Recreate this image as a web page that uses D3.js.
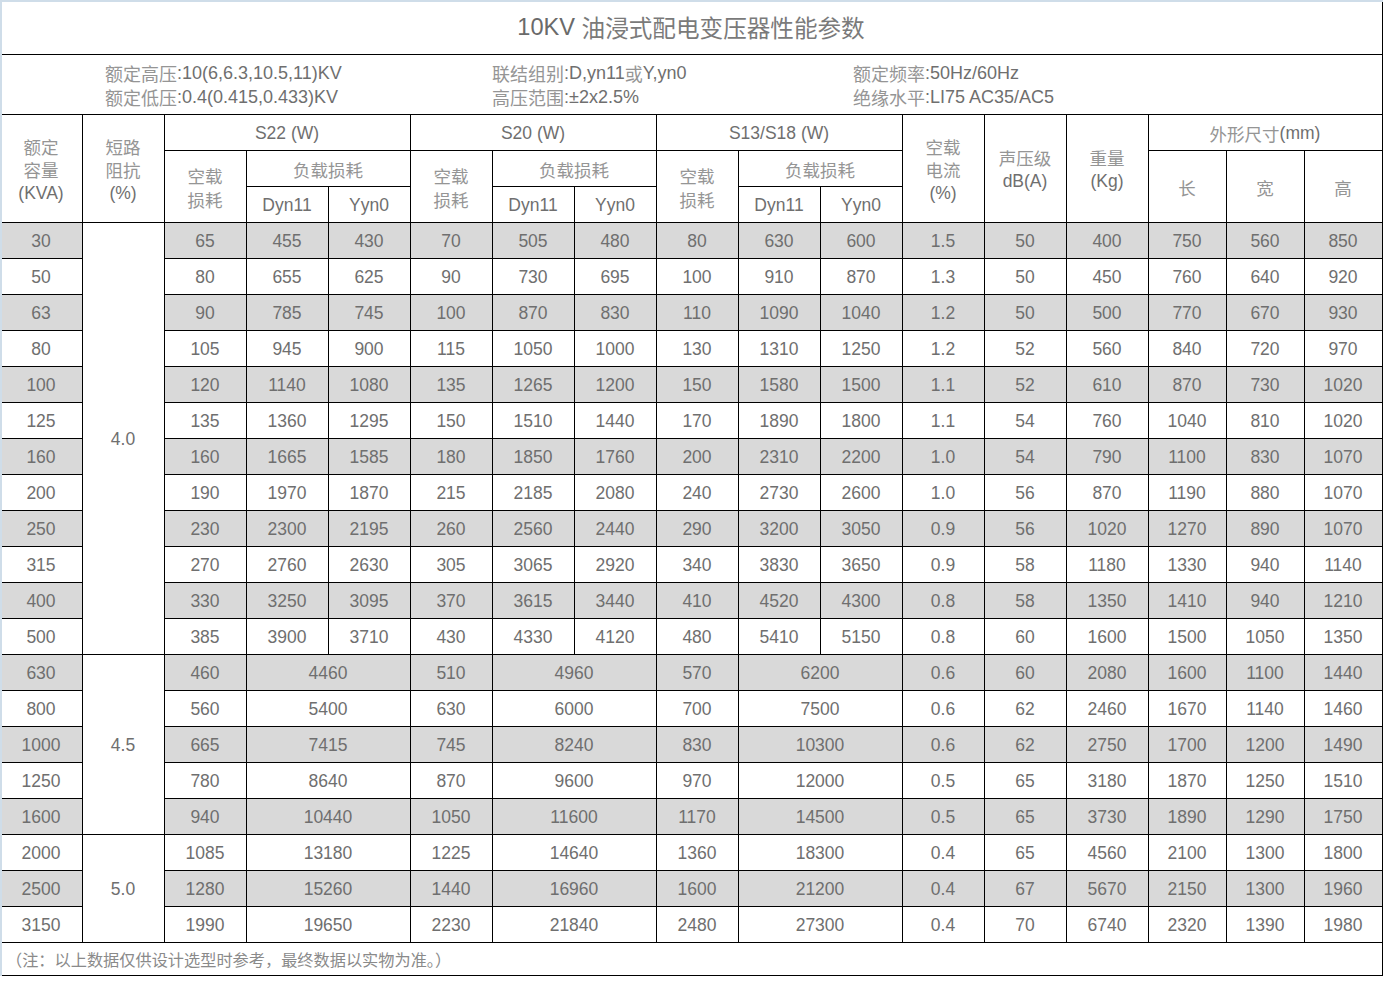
<!DOCTYPE html>
<html>
<head>
<meta charset="utf-8">
<script src="https://cdn.jsdelivr.net/npm/d3@7/dist/d3.min.js"></script>
<style>
  html, body { margin: 0; padding: 0; background: #fff; }
  svg { display: block; }
</style>
</head>
<body>
<div id="chart"></div>
<script>
// ---------------- DATA ----------------
const title = "10KV 油浸式配电变压器性能参数";
const infoCol1 = ["额定高压:10(6,6.3,10.5,11)KV", "额定低压:0.4(0.415,0.433)KV"];
const infoCol2 = ["联结组别:D,yn11或Y,yn0", "高压范围:±2x2.5%"];
const infoCol3 = ["额定频率:50Hz/60Hz", "绝缘水平:LI75 AC35/AC5"];
const note = "（注：以上数据仅供设计选型时参考，最终数据以实物为准。）";

const capacity = [30, 50, 63, 80, 100, 125, 160, 200, 250, 315, 400, 500, 630, 800, 1000, 1250, 1600, 2000, 2500, 3150];
const impedanceGroups = [
  { label: "4.0", from: 0, to: 11 },
  { label: "4.5", from: 12, to: 16 },
  { label: "5.0", from: 17, to: 19 }
];
const s22NoLoad = [65, 80, 90, 105, 120, 135, 160, 190, 230, 270, 330, 385, 460, 560, 665, 780, 940, 1085, 1280, 1990];
const s22Dyn11 = [455, 655, 785, 945, 1140, 1360, 1665, 1970, 2300, 2760, 3250, 3900, 4460, 5400, 7415, 8640, 10440, 13180, 15260, 19650];
const s22Yyn0 = [430, 625, 745, 900, 1080, 1295, 1585, 1870, 2195, 2630, 3095, 3710];
const s20NoLoad = [70, 90, 100, 115, 135, 150, 180, 215, 260, 305, 370, 430, 510, 630, 745, 870, 1050, 1225, 1440, 2230];
const s20Dyn11 = [505, 730, 870, 1050, 1265, 1510, 1850, 2185, 2560, 3065, 3615, 4330, 4960, 6000, 8240, 9600, 11600, 14640, 16960, 21840];
const s20Yyn0 = [480, 695, 830, 1000, 1200, 1440, 1760, 2080, 2440, 2920, 3440, 4120];
const s13NoLoad = [80, 100, 110, 130, 150, 170, 200, 240, 290, 340, 410, 480, 570, 700, 830, 970, 1170, 1360, 1600, 2480];
const s13Dyn11 = [630, 910, 1090, 1310, 1580, 1890, 2310, 2730, 3200, 3830, 4520, 5410, 6200, 7500, 10300, 12000, 14500, 18300, 21200, 27300];
const s13Yyn0 = [600, 870, 1040, 1250, 1500, 1800, 2200, 2600, 3050, 3650, 4300, 5150];
const noLoadCurrent = ["1.5", "1.3", "1.2", "1.2", "1.1", "1.1", "1.0", "1.0", "0.9", "0.9", "0.8", "0.8", "0.6", "0.6", "0.6", "0.5", "0.5", "0.4", "0.4", "0.4"];
const noise = [50, 50, 50, 52, 52, 54, 54, 56, 56, 58, 58, 60, 60, 62, 62, 65, 65, 65, 67, 70];
const weight = [400, 450, 500, 560, 610, 760, 790, 870, 1020, 1180, 1350, 1600, 2080, 2460, 2750, 3180, 3730, 4560, 5670, 6740];
const dimLength = [750, 760, 770, 840, 870, 1040, 1100, 1190, 1270, 1330, 1410, 1500, 1600, 1670, 1700, 1870, 1890, 2100, 2150, 2320];
const dimWidth = [560, 640, 670, 720, 730, 810, 830, 880, 890, 940, 940, 1050, 1100, 1140, 1200, 1250, 1290, 1300, 1300, 1390];
const dimHeight = [850, 920, 930, 970, 1020, 1020, 1070, 1070, 1070, 1140, 1210, 1350, 1440, 1460, 1490, 1510, 1750, 1800, 1960, 1980];

const seriesNames = ["S22 (W)", "S20 (W)", "S13/S18 (W)"];

// ---------------- LAYOUT ----------------
const W = 1394, H = 987;
const colWidths = [82, 82, 82, 82, 82, 82, 82, 82, 82, 82, 82, 82, 82, 82, 78, 78, 78];
const edges = [0];
colWidths.forEach(w => edges.push(edges[edges.length - 1] + w));
const tableRight = edges[edges.length - 1]; // 1382

const yTitleBottom = 54, yInfoBottom = 114, yH1 = 150, yH2 = 186, yHeadBottom = 222;
const rowCount = capacity.length;
const y = d3.scaleBand().domain(d3.range(rowCount)).range([yHeadBottom, yHeadBottom + 36 * rowCount]);
const yTableBottom = y.range()[1];
const yNoteBottom = yTableBottom + 33;

const numColor = "#6f6f6f";
const cjkColor = "#959595";
const shade = "#d9d9d9";
const FONT = "'Liberation Sans', Arial, 'Noto Sans CJK SC', sans-serif";

const svg = d3.select("#chart").append("svg")
  .attr("width", W).attr("height", H)
  .style("font-family", FONT);

const gFill = svg.append("g");
const gLines = svg.append("g").attr("shape-rendering", "crispEdges");
const gText = svg.append("g");

// text helper splitting CJK runs to a lighter colour
const cjkRe = /([\u3000-\u303f\u4e00-\u9fff\uff00-\uffef]+)/;
function addText(g, str, x, yy, opts = {}) {
  const t = g.append("text")
    .attr("x", x).attr("y", yy)
    .attr("text-anchor", opts.anchor || "middle")
    .attr("dominant-baseline", "central")
    .style("font-size", (opts.size || 17.5) + "px");
  str.split(cjkRe).filter(s => s.length).forEach(part => {
    const isCjk = cjkRe.test(part) && part.match(cjkRe)[0] === part;
    t.append("tspan").text(part)
      .attr("fill", isCjk ? (opts.cjk || cjkColor) : (opts.num || numColor))
      .style("font-family", isCjk ? "'Noto Sans CJK SC', sans-serif" : FONT);
  });
  return t;
}

function cell(c0, c1, y0, y1, fill, lines, textSize) {
  const x0 = edges[c0], x1 = edges[c1 + 1];
  if (fill) gFill.append("rect").attr("x", x0).attr("y", y0).attr("width", x1 - x0).attr("height", y1 - y0).attr("fill", fill);
  if (lines && lines.length) {
    const n = lines.length, lh = 23.5;
    const cy = (y0 + y1) / 2 + 1;
    lines.forEach((s, i) => addText(gText, String(s), (x0 + x1) / 2, cy + (i - (n - 1) / 2) * lh, { size: textSize }));
  }
  // right & bottom borders
  gLines.append("line").attr("x1", x1 + 0.5).attr("x2", x1 + 0.5).attr("y1", y0).attr("y2", y1 + 1).attr("stroke", "#000");
  gLines.append("line").attr("x1", x0 === 0 ? 1 : x0).attr("x2", x1 + 1).attr("y1", y1 + 0.5).attr("y2", y1 + 0.5).attr("stroke", "#000");
}

// ---- title & info ----
addText(gText, title, tableRight / 2, 27, { size: 23.6, cjk: "#7a7a7a", num: "#6a6a6a" });
gLines.append("line").attr("x1", 1).attr("x2", tableRight + 1).attr("y1", yTitleBottom + 0.5).attr("y2", yTitleBottom + 0.5).attr("stroke", "#000");
[[infoCol1, 105], [infoCol2, 492], [infoCol3, 853]].forEach(([arr, x]) => {
  arr.forEach((s, i) => addText(gText, s, x, 73 + i * 24, { anchor: "start", size: 18 }));
});
gLines.append("line").attr("x1", 1).attr("x2", tableRight + 1).attr("y1", yInfoBottom + 0.5).attr("y2", yInfoBottom + 0.5).attr("stroke", "#000");

// ---- header ----
cell(0, 0, yInfoBottom, yHeadBottom, null, ["额定", "容量", "(KVA)"]);
cell(1, 1, yInfoBottom, yHeadBottom, null, ["短路", "阻抗", "(%)"]);
seriesNames.forEach((name, k) => {
  const c = 2 + k * 3;
  cell(c, c + 2, yInfoBottom, yH1, null, [name]);
  cell(c, c, yH1, yHeadBottom, null, ["空载", "损耗"]);
  cell(c + 1, c + 2, yH1, yH2, null, ["负载损耗"]);
  cell(c + 1, c + 1, yH2, yHeadBottom, null, ["Dyn11"]);
  cell(c + 2, c + 2, yH2, yHeadBottom, null, ["Yyn0"]);
});
cell(11, 11, yInfoBottom, yHeadBottom, null, ["空载", "电流", "(%)"]);
cell(12, 12, yInfoBottom, yHeadBottom, null, ["声压级", "dB(A)"]);
cell(13, 13, yInfoBottom, yHeadBottom, null, ["重量", "(Kg)"]);
cell(14, 16, yInfoBottom, yH1, null, ["外形尺寸(mm)"]);
cell(14, 14, yH1, yHeadBottom, null, ["长"]);
cell(15, 15, yH1, yHeadBottom, null, ["宽"]);
cell(16, 16, yH1, yHeadBottom, null, ["高"]);

// ---- body ----
const series = [[s22NoLoad, s22Dyn11, s22Yyn0], [s20NoLoad, s20Dyn11, s20Yyn0], [s13NoLoad, s13Dyn11, s13Yyn0]];
d3.range(rowCount).forEach(i => {
  const y0 = y(i), y1 = y(i) + y.bandwidth();
  const fill = i % 2 === 0 ? shade : "#fff";
  cell(0, 0, y0, y1, fill, [capacity[i]]);
  series.forEach(([nl, dyn, yyn], k) => {
    const c = 2 + k * 3;
    cell(c, c, y0, y1, fill, [nl[i]]);
    if (yyn[i] !== undefined) {
      cell(c + 1, c + 1, y0, y1, fill, [dyn[i]]);
      cell(c + 2, c + 2, y0, y1, fill, [yyn[i]]);
    } else {
      cell(c + 1, c + 2, y0, y1, fill, [dyn[i]]);
    }
  });
  cell(11, 11, y0, y1, fill, [noLoadCurrent[i]]);
  cell(12, 12, y0, y1, fill, [noise[i]]);
  cell(13, 13, y0, y1, fill, [weight[i]]);
  cell(14, 14, y0, y1, fill, [dimLength[i]]);
  cell(15, 15, y0, y1, fill, [dimWidth[i]]);
  cell(16, 16, y0, y1, fill, [dimHeight[i]]);
});
impedanceGroups.forEach(g => {
  const y0 = y(g.from), y1 = y(g.to) + y.bandwidth();
  cell(1, 1, y0, y1, "#fff", [g.label]);
});

// ---- note ----
addText(gText, note, 6, (yTableBottom + yNoteBottom) / 2 + 0, { anchor: "start", size: 16.2, cjk: "#8a8a8a" });
gLines.append("line").attr("x1", 1).attr("x2", tableRight + 1).attr("y1", yNoteBottom + 0.5).attr("y2", yNoteBottom + 0.5).attr("stroke", "#000");
gLines.append("line").attr("x1", tableRight + 0.5).attr("x2", tableRight + 0.5).attr("y1", 0).attr("y2", yNoteBottom + 1).attr("stroke", "#000");

// frame (light blue top & left)
gLines.append("rect").attr("x", 0).attr("y", 0).attr("width", tableRight + 1).attr("height", 1.5).attr("fill", "#cfdde9");
gLines.append("rect").attr("x", 0).attr("y", 0).attr("width", 1.5).attr("height", yNoteBottom + 1).attr("fill", "#cfdde9");
</script>
</body>
</html>
